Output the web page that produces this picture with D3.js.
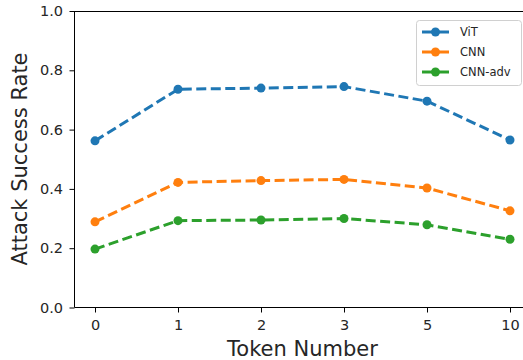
<!DOCTYPE html>
<html><head><meta charset="utf-8">
<script src="https://cdn.jsdelivr.net/npm/d3@7"></script>
<style>body{margin:0;background:#fff}svg{display:block}text{font-family:"DejaVu Sans",sans-serif;fill:#262626}</style>
</head><body><svg id="c" width="523" height="360"></svg>
<script>
const categories = ["0","1","2","3","5","10"];
const seriesNames = ["ViT","CNN","CNN-adv"];
const vit = [0.562, 0.736, 0.740, 0.745, 0.696, 0.565];
const cnn = [0.289, 0.422, 0.428, 0.432, 0.403, 0.326];
const cnnAdv = [0.197, 0.293, 0.295, 0.300, 0.279, 0.230];
const yTicks = [0.0, 0.2, 0.4, 0.6, 0.8, 1.0];
const colors = ["#1f77b4", "#ff7f0e", "#2ca02c"];
const series = [vit, cnn, cnnAdv];

const svg = d3.select("#c");
const x = d3.scaleLinear().domain([-0.25, 5.25]).range([74.25, 530.75]);
const y = d3.scaleLinear().domain([0, 1]).range([307.5, 11]);

// spines
svg.append("line").attr("x1",74.5).attr("x2",74.5).attr("y1",11).attr("y2",307.5).attr("stroke","#000").attr("stroke-width",1);
svg.append("line").attr("x1",74.5).attr("x2",530).attr("y1",307.5).attr("y2",307.5).attr("stroke","#000").attr("stroke-width",1);
svg.append("line").attr("x1",74.5).attr("x2",530).attr("y1",11.5).attr("y2",11.5).attr("stroke","#000").attr("stroke-width",1);

const yAxis = d3.axisLeft(y).tickValues(yTicks).tickFormat(d3.format(".1f")).tickSize(5).tickPadding(6.5);
const gy = svg.append("g").attr("transform","translate(74.5,0)").call(yAxis);
gy.select(".domain").remove();
gy.selectAll("text").attr("font-size",14.5).attr("fill","#262626").attr("font-family","DejaVu Sans");
gy.selectAll("line").attr("stroke","#000");

const xAxis = d3.axisBottom(x).tickValues(d3.range(categories.length)).tickFormat((d,i)=>categories[i]).tickSize(5).tickPadding(7.5);
const gx = svg.append("g").attr("transform","translate(0,307.5)").call(xAxis);
gx.select(".domain").remove();
gx.selectAll("text").attr("font-size",14.5).attr("fill","#262626").attr("font-family","DejaVu Sans");
gx.selectAll("line").attr("stroke","#000");

svg.append("text").attr("x",302.5).attr("y",356).attr("text-anchor","middle").attr("font-size",21).text("Token Number");
svg.append("text").attr("transform","translate(27,159) rotate(-90)").attr("text-anchor","middle").attr("font-size",21).text("Attack Success Rate");

const line = d3.line().x((d,i)=>x(i)).y(d=>y(d));
series.forEach((s,k)=>{
  svg.append("path").datum(s).attr("d",line).attr("fill","none").attr("stroke",colors[k]).attr("stroke-width",3).attr("stroke-dasharray","10,4.5");
  svg.selectAll(null).data(s).enter().append("circle").attr("cx",(d,i)=>x(i)).attr("cy",d=>y(d)).attr("r",4.5).attr("fill",colors[k]);
});

// legend
const lg = svg.append("g");
lg.append("rect").attr("x",416.5).attr("y",20.5).attr("width",105).attr("height",65).attr("rx",3).attr("fill","#fff").attr("fill-opacity",0.8).attr("stroke","#d0d0d0");
seriesNames.forEach((n,k)=>{
  const yy = 32 + k*20;
  lg.append("line").attr("x1",422).attr("x2",449).attr("y1",yy).attr("y2",yy).attr("stroke",colors[k]).attr("stroke-width",3);
  lg.append("circle").attr("cx",435.5).attr("cy",yy).attr("r",4.5).attr("fill",colors[k]);
  lg.append("text").attr("x",460).attr("y",yy+4).attr("font-size",11.5).text(n);
});
</script></body></html>
